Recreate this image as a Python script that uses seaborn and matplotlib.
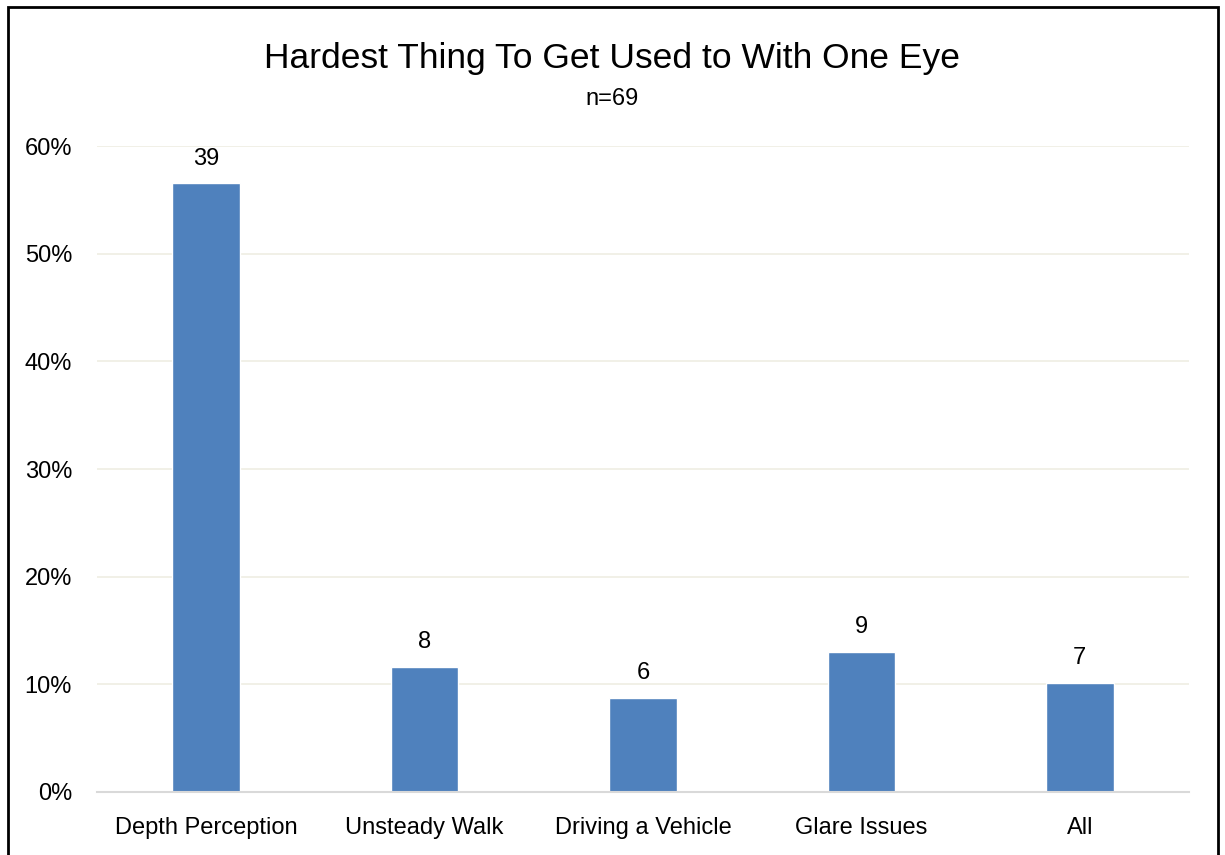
import numpy as np
import pandas as pd
import matplotlib
matplotlib.use("Agg")
import matplotlib.pyplot as plt
import seaborn as sns
from matplotlib.patches import Rectangle
from matplotlib.ticker import PercentFormatter

# data
categories = ["Depth Perception", "Unsteady Walk", "Driving a Vehicle", "Glare Issues", "All"]
counts = [39, 8, 6, 9, 7]
n_total = 69

df = pd.DataFrame({"category": categories, "count": counts})
df["share"] = df["count"] / n_total

sns.set_style("white")
plt.rcParams['font.family'] = ['Liberation Sans Narrow', 'Liberation Sans', 'DejaVu Sans']
plt.rcParams['text.color'] = 'black'

fig = plt.figure(figsize=(12.25, 8.55), dpi=100)
ax = fig.add_axes([0.0792, 0.0737, 0.8914, 0.7555])

sns.barplot(data=df, x="category", y="share", color="#4f81bd", width=0.31,
            saturation=1, ax=ax)

ax.set_ylim(0, 0.6)
ax.set_xlim(-0.5, len(categories) - 0.5)
ax.yaxis.set_major_formatter(PercentFormatter(1.0, decimals=0))
ax.set_yticks(np.arange(0, 0.61, 0.1))
ax.grid(axis="y", color="#efede3", linewidth=1.2)
ax.set_axisbelow(True)
for s in ["top", "right", "left"]:
    ax.spines[s].set_visible(False)
ax.spines["bottom"].set_color("#d9d9d9")
ax.spines["bottom"].set_linewidth(1.5)
ax.tick_params(axis="both", length=0, labelsize=17, colors="black", labelcolor="black")
ax.tick_params(axis="y", pad=18)
ax.tick_params(axis="x", pad=18)
ax.set_xlabel("")
ax.set_ylabel("")

# count labels above bars
for i, (c, s) in enumerate(zip(df["count"], df["share"])):
    ax.annotate(str(c), (i, s), xytext=(0, 10), textcoords="offset points",
                ha="center", va="bottom", fontsize=17, color="black")

fig.text(0.5, 0.932, "Hardest Thing To Get Used to With One Eye", ha="center",
         va="center", fontsize=25.5, color="black")
fig.text(0.5, 0.884, "n=69", ha="center", va="center", fontsize=17, color="black")

# outer frame, bottom edge runs off the image
fig.patches.append(Rectangle((0.0065, -0.05), 0.9878, 1.0418, transform=fig.transFigure,
                             fill=False, edgecolor="black", linewidth=2))

fig.savefig("out.png", dpi=100)
